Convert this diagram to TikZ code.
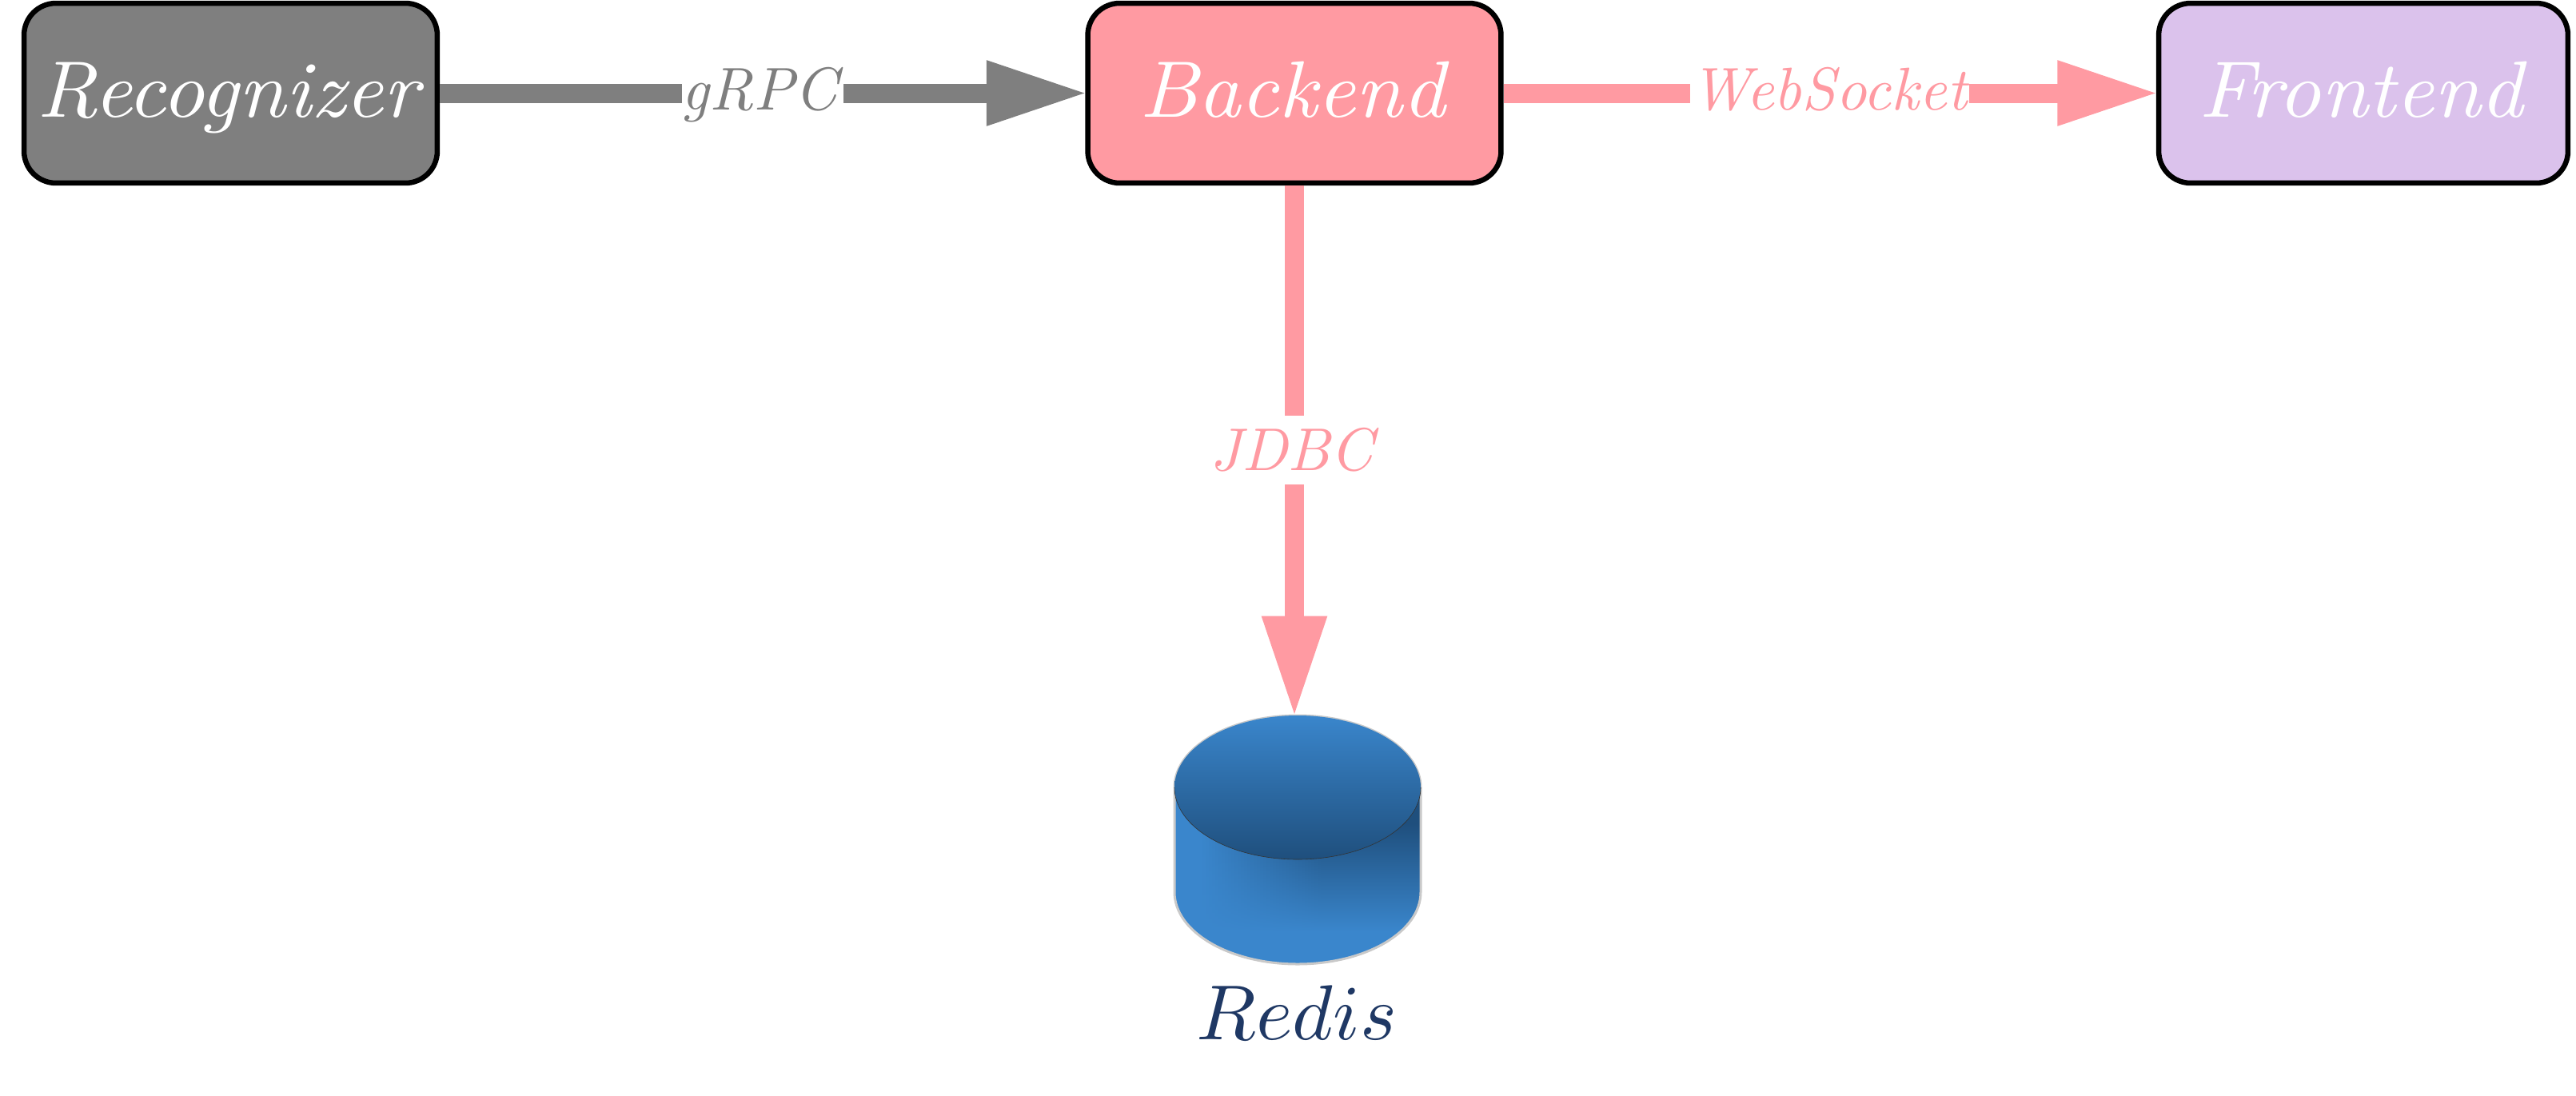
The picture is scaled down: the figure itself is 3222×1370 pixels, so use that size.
\documentclass[tikz,border=0pt]{standalone}
\usepackage{graphicx}
\usetikzlibrary{arrows.meta}
\definecolor{grayc}{HTML}{7F7F7F}
\definecolor{pinkc}{HTML}{FF9AA2}
\definecolor{lavc}{HTML}{DBC2EC}
\definecolor{dblue}{HTML}{3A86CC}
\definecolor{ddark}{HTML}{1F4F7D}
\definecolor{dtext}{HTML}{1F3864}
\tikzset{
  x=0.02cm,y=-0.02cm,
  svc/.style={draw=black,line width=0.13cm,rounded corners=0.8cm,minimum height=4.5cm,inner sep=0pt,text=white,text height=1.18cm,text depth=0pt},
  conn/.style={line width=0.48cm,draw=#1,shorten >=-0.08cm,-{Triangle[length=2.55cm,width=1.5cm]}},
  lab/.style={fill=white,inner sep=0pt,text=#1,text height=1.28cm,text depth=0.44cm},
  vlab/.style={fill=white,inner sep=0pt,text=#1,text height=1.36cm,text depth=0.36cm},
}
\newcommand{\bigt}[1]{\scalebox{5.94}[5.7]{\textit{#1}}}
\newcommand{\smallt}[1]{\scalebox{4.3}{\textit{#1}}}
\begin{document}
\begin{tikzpicture}
\useasboundingbox (0,0) rectangle (3222,1370);
% cylinder
\coordinate (dbtop) at (1619,894);
\fill[dblue] (1469,985) -- (1469,1116) arc[start angle=180,end angle=0,x radius=154,y radius=90] -- (1777,985) -- cycle;
\begin{scope}
\clip (1469,985) -- (1469,1116) arc[start angle=180,end angle=0,x radius=154,y radius=90] -- (1777,985) -- cycle;
\foreach \xx in {1460,1464,...,1784}{
  \pgfmathsetmacro\mixv{min(100,max(0,(\xx-1500)/1.5))}
  \colorlet{topc}{ddark!\mixv!dblue}
  \fill[topc] (\xx,985) rectangle (\xx+5,1031);
  \shade[top color=topc,bottom color=dblue] (\xx,1030) rectangle (\xx+5,1165);
}
\end{scope}
\draw[draw=black!21,line width=0.06cm,line join=round] (1469,985) -- (1469,1116) arc[start angle=180,end angle=0,x radius=154,y radius=90] -- (1777,985) arc[start angle=0,end angle=-180,x radius=154,y radius=90];
\shade[top color=dblue,middle color=ddark!35!dblue,bottom color=ddark] (1623,985) ellipse[x radius=154,y radius=90];
\draw[black!80,line width=0.012cm] (1469,985) arc[start angle=180,end angle=0,x radius=154,y radius=90];
\node[text=dtext,anchor=base,inner sep=0pt] (redis) at (1622,1300) {\scalebox{5.55}{$Redis$}};
% services
\node[svc,fill=grayc,minimum width=10.34cm] (rec) at (288.5,116.5) {\bigt{Recognizer}};
\node[svc,fill=pinkc,minimum width=10.34cm] (bak) at (1619,116.5) {\bigt{Backend}};
\node[svc,fill=lavc,minimum width=10.24cm] (fro) at (2956,116.5) {\bigt{Frontend}};
% connectors
\draw[conn=grayc] (rec) -- node[lab=grayc] (l1) {\smallt{gRPC}} (bak);
\draw[conn=pinkc] (bak) -- node[lab=pinkc] (l2) {\smallt{WebSocket}} (fro);
\draw[conn=pinkc] (bak) -- node[vlab=pinkc] (l3) {\smallt{JDBC}} (dbtop);
\end{tikzpicture}
\end{document}
